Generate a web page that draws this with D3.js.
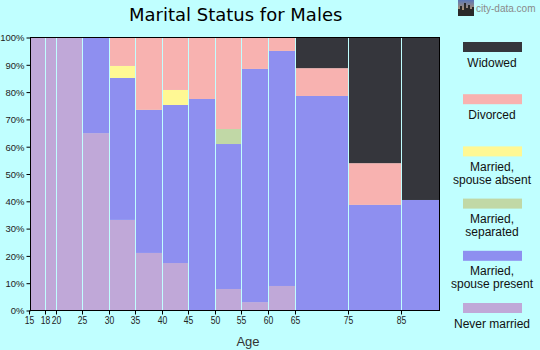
<!DOCTYPE html>
<html><head><meta charset="utf-8">
<script src="https://cdn.jsdelivr.net/npm/d3@7"></script>
<style>
html,body{margin:0;padding:0;background:#c0ffff;}
svg{display:block;}
</style></head><body>
<svg id="chart" width="540" height="350"></svg>
<script>
// Age group boundaries (years); each bar spans one group
const ageEdges = [15, 18, 20, 25, 30, 35, 40, 45, 50, 55, 60, 65, 75, 85, 92.2];
const ageTicks = [15, 18, 20, 25, 30, 35, 40, 45, 50, 55, 60, 65, 75, 85];
const yTicks = [0, 10, 20, 30, 40, 50, 60, 70, 80, 90, 100];

// Share of males in each status, per age group (percent)
const neverMarried   = [100, 100, 100, 64.8, 33.0, 20.9, 17.2, 0,    7.7,  2.9,  8.8,  0,    0,    0];
const spousePresent  = [0,   0,   0,   35.2, 52.0, 52.4, 57.9, 77.3, 53.1, 85.4, 86.1, 78.4, 38.5, 40.3];
const separated      = [0,   0,   0,   0,    0,    0,    0,    0,    5.5,  0,    0,    0,    0,    0];
const spouseAbsent   = [0,   0,   0,   0,    4.4,  0,    5.5,  0,    0,    0,    0,    0,    0,    0];
const divorced       = [0,   0,   0,   0,    10.6, 26.7, 19.4, 22.7, 33.7, 11.7, 5.1,  10.2, 15.3, 0];
const widowed        = [0,   0,   0,   0,    0,    0,    0,    0,    0,    0,    0,    11.4, 46.2, 59.7];

const statusKeys = ["never", "present", "separated", "absent", "divorced", "widowed"];
const statusSeries = [neverMarried, spousePresent, separated, spouseAbsent, divorced, widowed];
const statusColors = ["#c0a8d8", "#8e8ff0", "#c1d8a6", "#fff894", "#f8b2b0", "#35363c"];
// Legend, listed top to bottom
const legendKeys = ["widowed", "divorced", "absent", "separated", "present", "never"];
const legendLabels = [["Widowed"], ["Divorced"], ["Married,", "spouse absent"], ["Married,", "separated"], ["Married,", "spouse present"], ["Never married"]];

const svg = d3.select("#chart");
const W = 540, H = 350;
const plot = {left: 30, right: 439, top: 37, bottom: 310};

const x = d3.scaleLinear().domain([ageEdges[0], ageEdges[ageEdges.length - 1]]).range([plot.left - 1, plot.right]);
const y = d3.scaleLinear().domain([0, 100]).range([plot.bottom, plot.top]);
const color = d3.scaleOrdinal().domain(statusKeys).range(statusColors);

// Table of rows for stacking
const rows = ageEdges.slice(0, -1).map((a, i) => {
  const r = {start: a, end: ageEdges[i + 1]};
  statusKeys.forEach((k, j) => { r[k] = statusSeries[j][i]; });
  return r;
});
const stacked = d3.stack().keys(statusKeys)(rows);

svg.append("rect").attr("width", W).attr("height", H).attr("fill", "#c0ffff");

// Title
svg.append("text").attr("x", 129).attr("y", 21)
  .attr("font-family", "DejaVu Sans").attr("font-size", 18).attr("fill", "#000")
  .text("Marital Status for Males");

// Site mark
const logo = svg.append("g").attr("transform", "translate(458,0)");
const grad = svg.append("defs").append("linearGradient").attr("id", "sky").attr("x1", 0).attr("y1", 0).attr("x2", 0).attr("y2", 1);
grad.append("stop").attr("offset", "0%").attr("stop-color", "#5a78b8");
grad.append("stop").attr("offset", "100%").attr("stop-color", "#e0a040");
logo.append("rect").attr("width", 16).attr("height", 16).attr("fill", "url(#sky)");
logo.append("path").attr("fill", "#2a2a2a")
  .attr("d", "M0,16V9H2V6H4V10H6V3H8V8H10V5H12V9H14V7H16V16Z");
svg.append("text").attr("x", 476).attr("y", 11.5)
  .attr("font-family", "Liberation Sans").attr("font-size", 10).attr("fill", "#8a8a8a")
  .text("city-data.com");

// Bars
const barLayer = svg.append("g");
stacked.forEach(layer => {
  barLayer.selectAll(null).data(layer).join("rect")
    .attr("x", d => Math.round(x(d.data.start)) + 1)
    .attr("width", d => Math.round(x(d.data.end)) - Math.round(x(d.data.start)) - 1)
    .attr("y", d => y(d[1]))
    .attr("height", d => y(d[0]) - y(d[1]))
    .attr("fill", color(layer.key));
});

// Frame
svg.append("rect").attr("x", plot.left + 0.5).attr("y", plot.top + 0.5)
  .attr("width", plot.right - plot.left).attr("height", plot.bottom - plot.top)
  .attr("fill", "none").attr("stroke", "#000").attr("stroke-width", 1);

// Y axis
const yAxis = svg.append("g").attr("transform", `translate(${plot.left + 0.5},0.5)`)
  .call(d3.axisLeft(y).tickValues(yTicks).tickSize(4).tickFormat(d => d + "%"));
yAxis.select(".domain").remove();
yAxis.selectAll("line").attr("stroke", "#000");
yAxis.selectAll("text").attr("font-family", "Liberation Sans").attr("font-size", 9.5)
  .attr("fill", "#222").attr("dx", 1).attr("dy", "0.35em");

// X axis
const xAxis = svg.append("g").attr("transform", `translate(0.5,${plot.bottom + 0.5})`)
  .call(d3.axisBottom(x).tickValues(ageTicks).tickSize(4).tickFormat(d3.format("d")));
xAxis.select(".domain").remove();
xAxis.selectAll(".tick").attr("transform", d => `translate(${Math.round(x(d))},0)`);
xAxis.selectAll("line").attr("stroke", "#000");
xAxis.selectAll("text").attr("font-family", "Liberation Sans").attr("font-size", 11)
  .attr("fill", "#222").attr("y", 0).attr("dy", 0)
  .attr("transform", "translate(0,13) scale(0.78,1)");

svg.append("text").attr("x", 248).attr("y", 346).attr("text-anchor", "middle")
  .attr("font-family", "Liberation Sans").attr("font-size", 13).attr("fill", "#333")
  .text("Age");

// Legend
const ly = d3.scalePoint().domain(legendKeys).range([42, 303]);
const legend = svg.append("g");
legendKeys.forEach((k, i) => {
  const top = ly(k);
  legend.append("rect").attr("x", 463).attr("y", top).attr("width", 59).attr("height", 10).attr("fill", color(k));
  const t = legend.append("text").attr("text-anchor", "middle")
    .attr("font-family", "Liberation Sans").attr("font-size", 12).attr("fill", "#111");
  legendLabels[i].forEach((line, j) => {
    t.append("tspan").attr("x", 492).attr("y", top + 24.5 + j * 13).text(line);
  });
});
</script>
</body></html>
